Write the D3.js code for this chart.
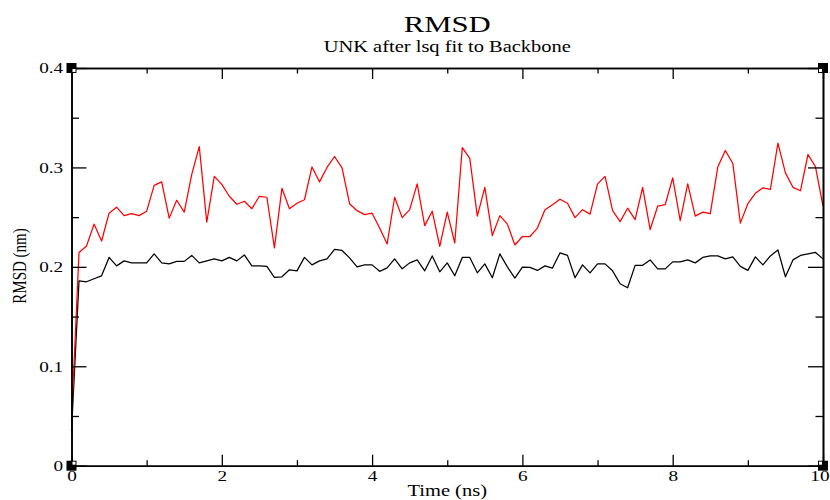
<!DOCTYPE html>
<html>
<head>
<meta charset="utf-8">
<script src="https://cdn.jsdelivr.net/npm/d3@7"></script>
<style>
  body { margin: 0; background: #fff; }
  svg { display: block; }
  svg text { font-family: "Liberation Serif", "Times New Roman", serif; }
</style>
</head>
<body>
<svg id="chart" width="830" height="500"></svg>
<script>
// ---------------- DATA ----------------

const timeNs = [
  0.0, 0.1, 0.2, 0.3, 0.4, 0.5, 0.6, 0.7, 0.8, 0.9,
  1.0, 1.1, 1.2, 1.3, 1.4, 1.5, 1.6, 1.7, 1.8, 1.9,
  2.0, 2.1, 2.2, 2.3, 2.4, 2.5, 2.6, 2.7, 2.8, 2.9,
  3.0, 3.1, 3.2, 3.3, 3.4, 3.5, 3.6, 3.7, 3.8, 3.9,
  4.0, 4.1, 4.2, 4.3, 4.4, 4.5, 4.6, 4.7, 4.8, 4.9,
  5.0, 5.1, 5.2, 5.3, 5.4, 5.5, 5.6, 5.7, 5.8, 5.9,
  6.0, 6.1, 6.2, 6.3, 6.4, 6.5, 6.6, 6.7, 6.8, 6.9,
  7.0, 7.1, 7.2, 7.3, 7.4, 7.5, 7.6, 7.7, 7.8, 7.9,
  8.0, 8.1, 8.2, 8.3, 8.4, 8.5, 8.6, 8.7, 8.8, 8.9,
  9.0, 9.1, 9.2, 9.3, 9.4, 9.5, 9.6, 9.7, 9.8, 9.9,
  10.0
];

// black set
const rmsdBlack = [
  0.035, 0.186, 0.185, 0.188, 0.191, 0.2095, 0.201, 0.206, 0.204, 0.204,
  0.204, 0.213, 0.204, 0.203, 0.2055, 0.2055, 0.2115, 0.204, 0.206, 0.208,
  0.206, 0.2095, 0.206, 0.212, 0.201, 0.201, 0.2005, 0.1895, 0.190, 0.197,
  0.196, 0.2095, 0.202, 0.206, 0.208, 0.2175, 0.2165, 0.209, 0.200, 0.202,
  0.202, 0.1955, 0.199, 0.208, 0.198, 0.204, 0.207, 0.196, 0.211, 0.195,
  0.204, 0.191, 0.2095, 0.2095, 0.194, 0.203, 0.189, 0.213, 0.200, 0.1887,
  0.1998, 0.1995, 0.1964, 0.201, 0.1988, 0.214, 0.2115, 0.189, 0.202, 0.194,
  0.203, 0.203, 0.196, 0.183, 0.179, 0.2015, 0.2015, 0.207, 0.198, 0.198,
  0.205, 0.205, 0.207, 0.204, 0.2095, 0.211, 0.211, 0.208, 0.210, 0.2005,
  0.1965, 0.210, 0.202, 0.211, 0.217, 0.190, 0.207, 0.2115, 0.213, 0.2145,
  0.208
];

// red set
const rmsdRed = [
  0.045, 0.2145, 0.221, 0.243, 0.226, 0.254, 0.260, 0.2515, 0.2535, 0.2515,
  0.256, 0.282, 0.2855, 0.249, 0.267, 0.255, 0.293, 0.321, 0.245, 0.291,
  0.283, 0.271, 0.263, 0.266, 0.2585, 0.271, 0.270, 0.219, 0.279, 0.2585,
  0.264, 0.2675, 0.3005, 0.2855, 0.300, 0.311, 0.2995, 0.2635, 0.2565, 0.2525,
  0.254, 0.239, 0.223, 0.270, 0.2495, 0.2575, 0.2835, 0.2415, 0.256, 0.2205,
  0.255, 0.224, 0.320, 0.309, 0.251, 0.280, 0.2315, 0.2515, 0.243, 0.222,
  0.2305, 0.2305, 0.239, 0.2575, 0.2625, 0.268, 0.264, 0.2495, 0.2575, 0.253,
  0.2835, 0.291, 0.2565, 0.2455, 0.259, 0.2475, 0.280, 0.2375, 0.261, 0.2625,
  0.2895, 0.2465, 0.2835, 0.251, 0.255, 0.2535, 0.3005, 0.317, 0.304, 0.244,
  0.2635, 0.274, 0.2795, 0.278, 0.3245, 0.2945, 0.280, 0.2765, 0.313, 0.3005,
  0.261
];

const xMajor = [0, 2, 4, 6, 8, 10];
const xMinor = [1, 3, 5, 7, 9];
const yMajor = [0, 0.1, 0.2, 0.3, 0.4];
const yMinor = [0.05, 0.15, 0.25, 0.35];

const titleText = "RMSD";
const subtitleText = "UNK after lsq fit to Backbone";
const xLabelText = "Time (ns)";
const yLabelText = "RMSD (nm)";

// ---------------- CHART ----------------

// the grace export is stretched sideways, so every text gets this x scale
const SX = 1.28;

const svg = d3.select("#chart");
const W = +svg.attr("width");

const x = d3.scaleLinear().domain([0, 10]).range([71.5, 823]);
const y = d3.scaleLinear().domain([0, 0.4]).range([465.7, 68]);

const [X0, X1] = x.range();
const [Y0, Y1] = y.range();

function wideText(px, py, str, size, anchor) {
  return svg.append("text")
    .attr("transform", `translate(${px},${py}) scale(${SX},1)`)
    .attr("text-anchor", anchor || "middle")
    .attr("font-size", size)
    .attr("fill", "#000")
    .text(str);
}

// data lines (black first, red on top)
const line = d3.line()
  .x((d, i) => x(timeNs[i]))
  .y(d => y(d));

svg.append("path")
  .datum(rmsdBlack)
  .attr("fill", "none")
  .attr("stroke", "#000")
  .attr("stroke-width", 1.25)
  .attr("stroke-linejoin", "round")
  .attr("d", line);

svg.append("path")
  .datum(rmsdRed)
  .attr("fill", "none")
  .attr("stroke", "#ff0000")
  .attr("stroke-width", 1.25)
  .attr("stroke-linejoin", "round")
  .attr("d", line);

// axes - ticks point inward on all four sides
function styleAxis(g) {
  g.select(".domain").attr("stroke", "#000").attr("stroke-width", 1.6);
  g.selectAll(".tick line").attr("stroke", "#000").attr("stroke-width", 1.3);
  g.attr("font-family", null).attr("font-size", 15);
}

const gBottom = svg.append("g").attr("transform", `translate(0,${Y0})`)
  .call(d3.axisBottom(x).tickValues(xMajor).tickSize(-11).tickSizeOuter(0)
    .tickPadding(5).tickFormat(d3.format("d")))
  .call(styleAxis);
gBottom.selectAll(".tick text").attr("transform", `scale(${SX},1)`).attr("fill", "#000");
// last label sits on the window edge: pull it in just enough to stay visible
gBottom.selectAll(".tick text").filter(d => d === 10)
  .attr("text-anchor", "end")
  .attr("x", (W - 1 - X1) / SX);

svg.append("g").attr("transform", `translate(0,${Y0})`)
  .call(d3.axisBottom(x).tickValues(xMinor).tickSize(-5.5).tickSizeOuter(0).tickFormat(""))
  .call(styleAxis);

svg.append("g").attr("transform", `translate(0,${Y1})`)
  .call(d3.axisTop(x).tickValues(xMajor).tickSize(-11).tickSizeOuter(0).tickFormat(""))
  .call(styleAxis);
svg.append("g").attr("transform", `translate(0,${Y1})`)
  .call(d3.axisTop(x).tickValues(xMinor).tickSize(-5.5).tickSizeOuter(0).tickFormat(""))
  .call(styleAxis);

const gLeft = svg.append("g").attr("transform", `translate(${X0},0)`)
  .call(d3.axisLeft(y).tickValues(yMajor).tickSize(-15).tickSizeOuter(0)
    .tickPadding(6.5).tickFormat(d => d === 0 ? "0" : d3.format(".1f")(d)))
  .call(styleAxis);
gLeft.selectAll(".tick text").attr("transform", `scale(${SX},1)`).attr("fill", "#000");

svg.append("g").attr("transform", `translate(${X0},0)`)
  .call(d3.axisLeft(y).tickValues(yMinor).tickSize(-7.5).tickSizeOuter(0).tickFormat(""))
  .call(styleAxis);

svg.append("g").attr("transform", `translate(${X1},0)`)
  .call(d3.axisRight(y).tickValues(yMajor).tickSize(-15).tickSizeOuter(0).tickFormat(""))
  .call(styleAxis);
svg.append("g").attr("transform", `translate(${X1},0)`)
  .call(d3.axisRight(y).tickValues(yMinor).tickSize(-7.5).tickSizeOuter(0).tickFormat(""))
  .call(styleAxis);

// grace corner handles
const corners = [[X0, Y0], [X1, Y0], [X0, Y1], [X1, Y1]];
corners.forEach(([cx, cy]) => {
  svg.append("rect")
    .attr("x", cx - 5).attr("y", cy - 5)
    .attr("width", 10).attr("height", 10)
    .attr("fill", "#000");
  svg.append("rect")
    .attr("x", cx + (cx === X0 ? 1 : -4)).attr("y", cy + (cy === Y1 ? 1 : -4))
    .attr("width", 3).attr("height", 3)
    .attr("fill", "#fff");
});

// titles
const midX = (X0 + X1) / 2;
wideText(midX, 32, titleText, 24);
wideText(midX, 52, subtitleText, 16);
wideText(midX, 496, xLabelText, 16);

svg.append("text")
  .attr("transform", `translate(26,266) scale(${SX},1) rotate(-90)`)
  .attr("text-anchor", "middle")
  .attr("font-size", 15)
  .attr("fill", "#000")
  .text(yLabelText);
</script>
</body>
</html>
